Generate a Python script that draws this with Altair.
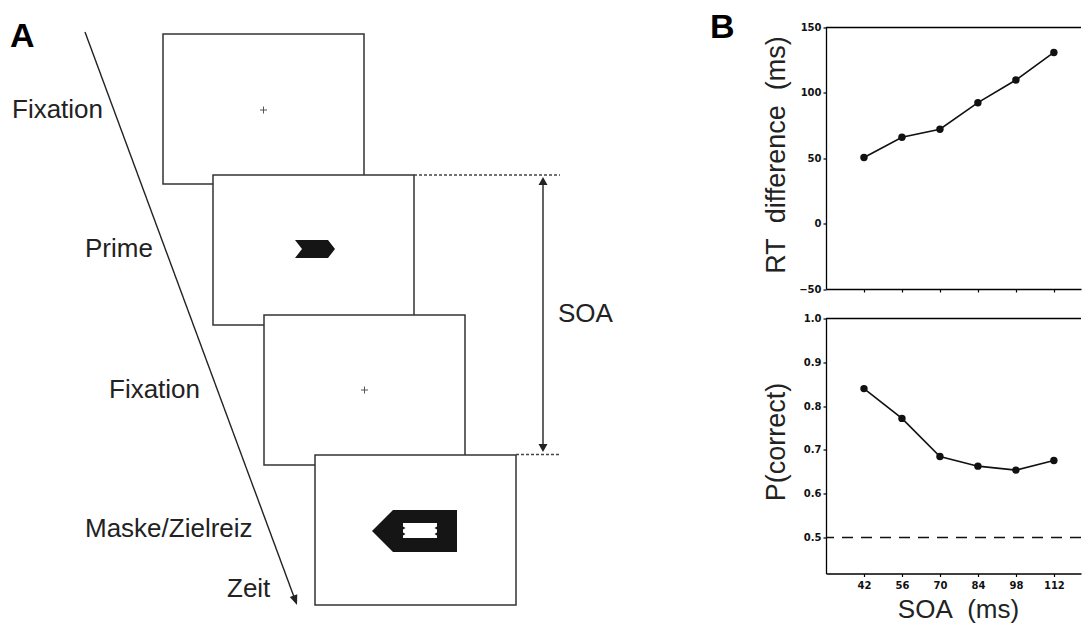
import math
import altair as alt
import pandas as pd

# ---------------- Panel B data ----------------
SOA = [42, 56, 70, 84, 98, 112]
RT_DIFF = [50.6, 66.1, 72.2, 92.5, 109.8, 130.9]
P_CORRECT = [0.840, 0.772, 0.685, 0.663, 0.654, 0.676]
RT_TICKS = [-50, 0, 50, 100, 150]
P_TICKS = [0.5, 0.6, 0.7, 0.8, 0.9, 1.0]
CHANCE = [0.5]

# ---------------- Panel A schematic (diagram units) ----------------
FRAME_LEFT = [163, 213, 264, 315]
FRAME_TOP = [34, 175, 315, 455]
FRAME_W = 201
FRAME_H = 150
STEP_LABELS = ["Fixation", "Prime", "Fixation", "Maske/Zielreiz", "Zeit", "SOA"]
LABEL_X = [12, 85, 109, 85, 227, 558]
LABEL_Y = [118, 257, 398, 537, 597, 322]
CROSS_X = [263.5, 364.5]
CROSS_Y = [110, 390]
CROSS_HALF = 3.5
TIME_START = (85, 32)
TIME_END = (297, 605)
SOA_X = 543
SOA_Y = [177, 452]
GUIDE_X0 = [414, 516]
GUIDE_X1 = [560, 560]
GUIDE_Y = [175, 454.5]
PRIME_POS = (315, 249)
MASK_POS = (414.5, 531)
PANEL_TAGS = ["A", "B"]
TAG_X = [10, 710]
TAG_Y = [47, 38]

CHEVRON = "M20,0L13,-9L-20,-9L-13,0L-20,9L13,9Z"
MASK = "M-42.5,0L-21.5,-21L42.5,-21L42.5,21L-21.5,21Z"
WINDOW = ("M-11.5,-8L22.5,-8L22.5,-4.5L20,-3L22.5,-1.5L22.5,1.5L20,3L22.5,4.5L22.5,7"
          "L-11.5,7L-11.5,4.5L-9,3L-11.5,1.5L-11.5,-1.5L-9,-3L-11.5,-4.5Z")
ARROW_T = "M0,5L-4,-5L4,-5Z"
ARROW_S = "M0,4L-4.5,-4L4.5,-4Z"

FONT = "Liberation Sans"
INK = "#222222"

A_W, A_H = 826, 624
xs = alt.Scale(domain=[0, A_W], nice=False, zero=False)
ys = alt.Scale(domain=[0, A_H], nice=False, zero=False, reverse=True)


def ax(f):
    return alt.X(f, type="quantitative", scale=xs, axis=None)


def ay(f):
    return alt.Y(f, type="quantitative", scale=ys, axis=None)


frames = pd.DataFrame({
    "x0": FRAME_LEFT,
    "x1": [v + FRAME_W for v in FRAME_LEFT],
    "y0": FRAME_TOP,
    "y1": [v + FRAME_H for v in FRAME_TOP],
})
rects = alt.Chart(frames).mark_rect(fill="white", stroke="#333333", strokeWidth=1.5).encode(
    x=ax("x0"), x2="x1", y=ay("y0"), y2="y1")

dx, dy = TIME_END[0] - TIME_START[0], TIME_END[1] - TIME_START[1]
L = math.hypot(dx, dy)
ux, uy = dx / L, dy / L
timeline_df = pd.DataFrame({"x": [TIME_START[0], TIME_END[0] - 4 * ux],
                            "y": [TIME_START[1], TIME_END[1] - 4 * uy]})
timeline = alt.Chart(timeline_df).mark_line(color=INK, strokeWidth=1.4).encode(x=ax("x"), y=ay("y"))
ang = (360 - math.degrees(math.atan2(dx, dy))) % 360
thead_df = pd.DataFrame({"x": [TIME_END[0] - 5 * ux], "y": [TIME_END[1] - 5 * uy], "a": [ang]})
thead = alt.Chart(thead_df).mark_point(shape=ARROW_T, size=4, filled=True, color=INK, opacity=1).encode(
    x=ax("x"), y=ay("y"), angle=alt.Angle("a:Q", scale=None))

soa_df = pd.DataFrame({"x": [SOA_X], "y0": [SOA_Y[0] + 2], "y1": [SOA_Y[1] - 2]})
soa_line = alt.Chart(soa_df).mark_rule(color=INK, strokeWidth=1.4).encode(x=ax("x"), y=ay("y0"), y2="y1")
shead_df = pd.DataFrame({"x": [SOA_X, SOA_X], "y": [SOA_Y[0] + 4, SOA_Y[1] - 4], "a": [180, 0]})
sheads = alt.Chart(shead_df).mark_point(shape=ARROW_S, size=4, filled=True, color=INK, opacity=1).encode(
    x=ax("x"), y=ay("y"), angle=alt.Angle("a:Q", scale=None))

guide_df = pd.DataFrame({"x0": GUIDE_X0, "x1": GUIDE_X1, "y": GUIDE_Y})
guides = alt.Chart(guide_df).mark_rule(color="#444444", strokeWidth=1.5, strokeDash=[3, 2]).encode(
    x=ax("x0"), x2="x1", y=ay("y"))

lab_df = pd.DataFrame({"t": STEP_LABELS, "x": LABEL_X, "y": LABEL_Y})
labels = alt.Chart(lab_df).mark_text(align="left", baseline="alphabetic", font=FONT, fontSize=26,
                                     color=INK).encode(x=ax("x"), y=ay("y"), text="t:N")

cross_h = pd.DataFrame({"x0": [v - CROSS_HALF for v in CROSS_X], "x1": [v + CROSS_HALF for v in CROSS_X],
                        "y": CROSS_Y})
cross_v = pd.DataFrame({"x": CROSS_X, "y0": [v - CROSS_HALF for v in CROSS_Y],
                        "y1": [v + CROSS_HALF for v in CROSS_Y]})
crosses_h = alt.Chart(cross_h).mark_rule(color="#555555", strokeWidth=1).encode(x=ax("x0"), x2="x1", y=ay("y"))
crosses_v = alt.Chart(cross_v).mark_rule(color="#555555", strokeWidth=1).encode(x=ax("x"), y=ay("y0"), y2="y1")

prime_df = pd.DataFrame({"x": [PRIME_POS[0]], "y": [PRIME_POS[1]]})
prime = alt.Chart(prime_df).mark_point(shape=CHEVRON, size=4, filled=True, color="#151515", opacity=1).encode(
    x=ax("x"), y=ay("y"))
mask_df = pd.DataFrame({"x": [MASK_POS[0]], "y": [MASK_POS[1]]})
mask = alt.Chart(mask_df).mark_point(shape=MASK, size=4, filled=True, color="#151515", opacity=1).encode(
    x=ax("x"), y=ay("y"))
window = alt.Chart(mask_df).mark_point(shape=WINDOW, size=4, filled=True, color="white", opacity=1).encode(
    x=ax("x"), y=ay("y"))

tag_df = pd.DataFrame({"t": PANEL_TAGS, "x": TAG_X, "y": TAG_Y})
tags = alt.Chart(tag_df).mark_text(align="left", baseline="alphabetic", font=FONT, fontSize=34,
                                   fontWeight="bold", color="black").encode(x=ax("x"), y=ay("y"), text="t:N")

panelA = alt.layer(rects, guides, soa_line, sheads, timeline, thead, labels, crosses_h, crosses_v, prime, mask,
                   window, tags).properties(width=A_W, height=A_H)

# ---------------- Panel B ----------------
B_W = 255
xb = alt.Scale(domain=[28, 122], nice=False, zero=False)
LBL = dict(labelFont="DejaVu Sans", labelFontSize=10, labelFontWeight="bold", labelColor="#111111")
AX = dict(domainColor="black", domainWidth=1.3, tickColor="black", tickWidth=1.2, tickSize=3, grid=False)

rt_df = pd.DataFrame({"soa": SOA, "rt": RT_DIFF})
top_base = alt.Chart(rt_df).encode(
    x=alt.X("soa:Q", scale=xb, axis=alt.Axis(values=SOA, labels=False, title=None, **AX)),
    y=alt.Y("rt:Q", scale=alt.Scale(domain=[-50, 150], nice=False, zero=False),
            axis=alt.Axis(values=RT_TICKS, format="d", labelPadding=2,
                          title="RT\u00a0\u00a0difference\u00a0\u00a0(ms)", titleFont=FONT, titleFontSize=27,
                          titleFontWeight="normal", titleColor=INK, titleX=-42, titleY=127, titleAngle=270,
                          titleBaseline="alphabetic", titleAlign="center", **LBL, **AX)),
)
top_line = top_base.mark_line(color="#111111", strokeWidth=1.6)
top_pts = top_base.mark_point(filled=True, size=55, color="#111111", opacity=1)
top_frame = alt.Chart(pd.DataFrame({"rt": [RT_TICKS[-1]]})).mark_rule(color="black", strokeWidth=1.3).encode(
    y=alt.Y("rt:Q"))
top = alt.layer(top_frame, top_line, top_pts).properties(width=B_W, height=261.5)

p_df = pd.DataFrame({"soa": SOA, "p": P_CORRECT})
bot_base = alt.Chart(p_df).encode(
    x=alt.X("soa:Q", scale=xb,
            axis=alt.Axis(values=SOA, labelPadding=4, title="SOA\u00a0\u00a0(ms)", titleFont=FONT,
                          titleFontSize=26, titleFontWeight="normal", titleColor=INK, titleX=132, titleY=44,
                          titleBaseline="alphabetic", titleAlign="center", **LBL, **AX)),
    y=alt.Y("p:Q", scale=alt.Scale(domain=[0.418, 1.0], nice=False, zero=False),
            axis=alt.Axis(values=P_TICKS, format=".1f", labelPadding=2, title="P(correct)", titleFont=FONT,
                          titleFontSize=27, titleFontWeight="normal", titleColor=INK, titleX=-42, titleY=123,
                          titleAngle=270, titleBaseline="alphabetic", titleAlign="center", **LBL, **AX)),
)
bot_line = bot_base.mark_line(color="#111111", strokeWidth=1.6)
bot_pts = bot_base.mark_point(filled=True, size=55, color="#111111", opacity=1)
bot_frame = alt.Chart(pd.DataFrame({"p": [P_TICKS[-1]]})).mark_rule(color="black", strokeWidth=1.3).encode(
    y=alt.Y("p:Q"))
chance = alt.Chart(pd.DataFrame({"p": CHANCE})).mark_rule(color="#111111", strokeWidth=1.5,
                                                          strokeDash=[11, 8]).encode(y=alt.Y("p:Q"))
bottom = alt.layer(bot_frame, chance, bot_line, bot_pts).properties(width=B_W, height=255)

spacer = alt.Chart(pd.DataFrame({"v": [0]})).mark_point(opacity=0, size=1).encode(
    x=alt.value(5), y=alt.value(1)).properties(width=B_W, height=1)

panelB = alt.vconcat(spacer, alt.vconcat(top, bottom, spacing=29, bounds="flush"), spacing=26.5, bounds="flush")

chart = alt.hconcat(panelA, panelB, spacing=0, bounds="flush").properties(padding=0).configure(
    font=FONT).configure_view(stroke=None)

chart.save("out.html", embed_options={"renderer": "svg", "actions": False})
